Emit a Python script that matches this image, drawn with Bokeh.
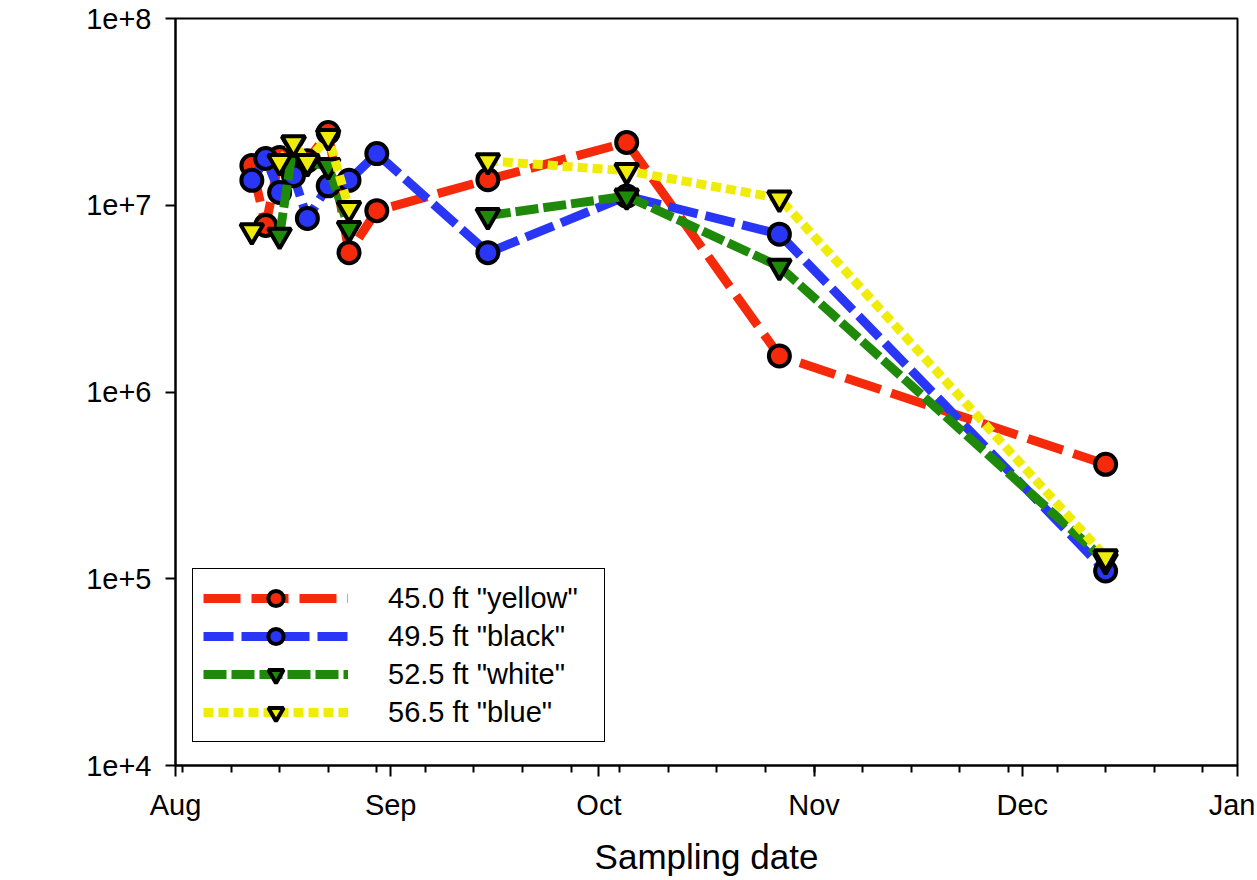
import numpy as np
from datetime import datetime, timedelta
from bokeh.plotting import figure
from bokeh.models import (Range1d, FixedTicker, DatetimeTickFormatter,
                          CustomJSTickFormatter, Legend, LegendItem)
from bokeh.embed import file_html
from bokeh.resources import INLINE

# ---------------- data ----------------
dates = ["2009-08-12", "2009-08-14", "2009-08-16", "2009-08-18", "2009-08-20",
         "2009-08-23", "2009-08-26", "2009-08-30", "2009-09-15", "2009-10-05",
         "2009-10-27", "2009-12-13"]
nan = float("nan")
depth_450_yellow = [1.63e7, 7.8e6, 1.80e7, 1.63e7, 1.73e7, 2.45e7, 5.57e6, 9.35e6,
                    1.37e7, 2.17e7, 1.56e6, 4.1e5]
depth_495_black = [1.36e7, 1.78e7, 1.17e7, 1.44e7, 8.5e6, 1.27e7, 1.36e7, 1.89e7,
                   5.57e6, 1.12e7, 7.0e6, 1.10e5]
depth_525_white = [nan, nan, 6.9e6, 2.14e7, 1.69e7, 1.63e7, 7.5e6, nan,
                   8.8e6, 1.12e7, 4.7e6, 1.25e5]
depth_565_blue = [7.3e6, nan, 1.71e7, 2.16e7, 1.71e7, 2.33e7, 9.6e6, nan,
                  1.73e7, 1.53e7, 1.09e7, 1.31e5]
series_labels = ['45.0 ft "yellow"', '49.5 ft "black"', '52.5 ft "white"', '56.5 ft "blue"']
month_ticks = ["2009-08-01", "2009-09-01", "2009-10-01", "2009-11-01",
               "2009-12-01", "2010-01-01"]
y_ticks = [1e4, 1e5, 1e6, 1e7, 1e8]

# ---------------- helpers ----------------
def to_dt(s):
    return datetime.strptime(s, "%Y-%m-%d")

x = [to_dt(d) for d in dates]
x_start = to_dt(month_ticks[0])
x_end = to_dt(month_ticks[-1])
epoch = datetime(1970, 1, 1)
def ms(d):
    return (d - epoch).total_seconds() * 1000.0

major = [ms(to_dt(m)) for m in month_ticks]
minor = []
d = to_dt("2009-08-02")
while d < x_end:
    minor.append(ms(d))
    d += timedelta(days=7)

FONT = "Liberation Sans"

p = figure(width=1255, height=878, x_axis_type="datetime", y_axis_type="log",
           x_range=Range1d(x_start, x_end), y_range=Range1d(y_ticks[0], y_ticks[-1]),
           output_backend="svg", toolbar_location=None,
           min_border_left=175, min_border_top=18, min_border_right=18,
           min_border_bottom=113)
p.xgrid.visible = False
p.ygrid.visible = False
p.outline_line_color = "black"
p.outline_line_width = 2
p.outline_line_alpha = 1.0
p.background_fill_color = "white"
p.border_fill_color = "white"

# axes
p.xaxis.ticker = FixedTicker(ticks=major, minor_ticks=minor)
fmt = "%b"
p.xaxis.formatter = DatetimeTickFormatter(
    microseconds=fmt, milliseconds=fmt, seconds=fmt, minsec=fmt, minutes=fmt,
    hourmin=fmt, hours=fmt, days=fmt, months=fmt, years=fmt)
p.yaxis.ticker = FixedTicker(ticks=y_ticks, minor_ticks=[])
p.yaxis.formatter = CustomJSTickFormatter(
    code="return '1e+' + Math.round(Math.log10(tick));")

for ax in (p.xaxis[0], p.yaxis[0]):
    ax.axis_line_width = 2
    ax.axis_line_color = "black"
    ax.major_tick_line_width = 2
    ax.minor_tick_line_width = 2
    ax.major_tick_in = 0
    ax.minor_tick_in = 0
    ax.major_label_text_font = FONT
    ax.major_label_text_font_size = "29px"
    ax.major_label_text_color = "black"

p.xaxis.major_tick_out = 11
p.xaxis.minor_tick_out = 7
p.xaxis.major_label_standoff = 12
p.yaxis.major_tick_out = 10
p.yaxis.minor_tick_out = 0
p.yaxis.major_label_standoff = 14

p.xaxis.axis_label = "Sampling date"
p.xaxis.axis_label_text_font = FONT
p.xaxis.axis_label_text_font_size = "35px"
p.xaxis.axis_label_text_font_style = "normal"
p.xaxis.axis_label_text_color = "black"
p.xaxis.axis_label_standoff = 13

# series
styles = [
    (depth_450_yellow, "#f52a0a", "37 11", "circle"),
    (depth_495_black, "#2a36f5", "30 8", "circle"),
    (depth_525_white, "#1f8a0a", "23 5", "inverted_triangle"),
    (depth_565_blue, "#f0ec0a", "10 5", "inverted_triangle"),
]
items = []
for (vals, col, dash, mk), lab in zip(styles, series_labels):
    yv = np.array(vals, dtype=float)
    lr = p.line(x, yv, line_color=col, line_width=9, line_dash=dash)
    sz = 21 if mk == "circle" else 23
    sr = p.scatter(x, yv, marker=mk, size=sz, fill_color=col,
                   line_color="black", line_width=4)
    items.append(LegendItem(label=lab, renderers=[lr, sr]))

legend = Legend(items=items, location=(17, 23), padding=10, spacing=0,
                glyph_width=145, glyph_height=38, label_standoff=40,
                label_width=206, label_text_font=FONT,
                label_text_font_size="29px", label_text_color="black",
                border_line_color="black", border_line_width=1.5,
                border_line_alpha=1.0,
                background_fill_color="white", background_fill_alpha=1.0)
p.add_layout(legend)

open("out.html", "w").write(file_html(p, INLINE))
